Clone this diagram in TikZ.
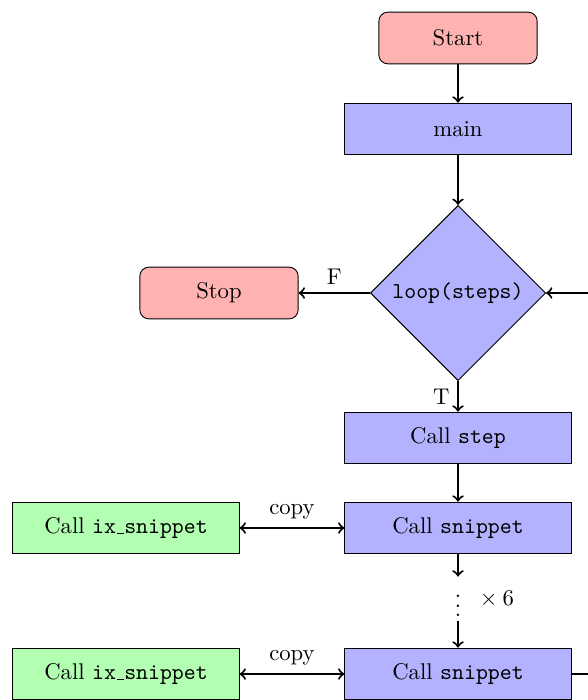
\documentclass[tikz,border=0pt]{standalone}
\usetikzlibrary{shapes.geometric}
\newcommand{\ttus}{\leavevmode\kern.06em\vbox{\hrule width.3em}}
\begin{document}
\begin{tikzpicture}[x=0.015480cm,y=-0.015480cm,
  startstop/.style={rectangle, rounded corners, draw=black, fill=red!30, minimum width=2.45cm, minimum height=0.8cm},
  process/.style={rectangle, draw=black, fill=blue!30, minimum width=3.5cm, minimum height=0.8cm},
  ixproc/.style={rectangle, draw=black, fill=green!30, minimum width=3.5cm, minimum height=0.8cm},
  decision/.style={diamond, draw=black, fill=blue!30, minimum width=2.71cm, minimum height=2.71cm, inner sep=0pt},
  flow/.style={line width=0.9pt, ->},
  both/.style={line width=0.9pt, <->},
  dotsbox/.style={inner sep=0pt, minimum height=0.68cm, minimum width=0.33cm}
]
\useasboundingbox (0,0) rectangle (587,700);
\node[startstop] (start) at (458,38) {Start};
\node[process] (main) at (458,129) {main};
\node[decision] (dec) at (458,293) {\texttt{loop(steps)}};
\node[startstop] (stop) at (219,293) {Stop};
\node[process] (step) at (458,438) {Call \texttt{step}};
\node[process] (snip1) at (458,528) {Call \texttt{snippet}};
\node[ixproc] (ix1) at (126,528) {Call \texttt{ix\ttus snippet}};
\node[dotsbox, label={[label distance=-1pt]right:${}\times 6$}] (dots) at (458,599) {$\vdots$};
\node[process] (snip2) at (458,674) {Call \texttt{snippet}};
\node[ixproc] (ix2) at (126,674) {Call \texttt{ix\ttus snippet}};
\coordinate (loopright) at (630,674);

\draw[flow] (start) -- (main);
\draw[flow] (main) -- (dec);
\draw[flow] (dec) -- node[above] {F} (stop);
\draw[flow] (dec) -- node[left] {T} (step);
\draw[flow] (step) -- (snip1);
\draw[both] (ix1) -- node[above] {copy} (snip1);
\draw[flow] (snip1) -- (dots);
\draw[flow] (dots) -- (snip2);
\draw[both] (ix2) -- node[above] {copy} (snip2);
\draw[flow] (snip2.east) -- (loopright) |- (dec.east);
\end{tikzpicture}
\end{document}
